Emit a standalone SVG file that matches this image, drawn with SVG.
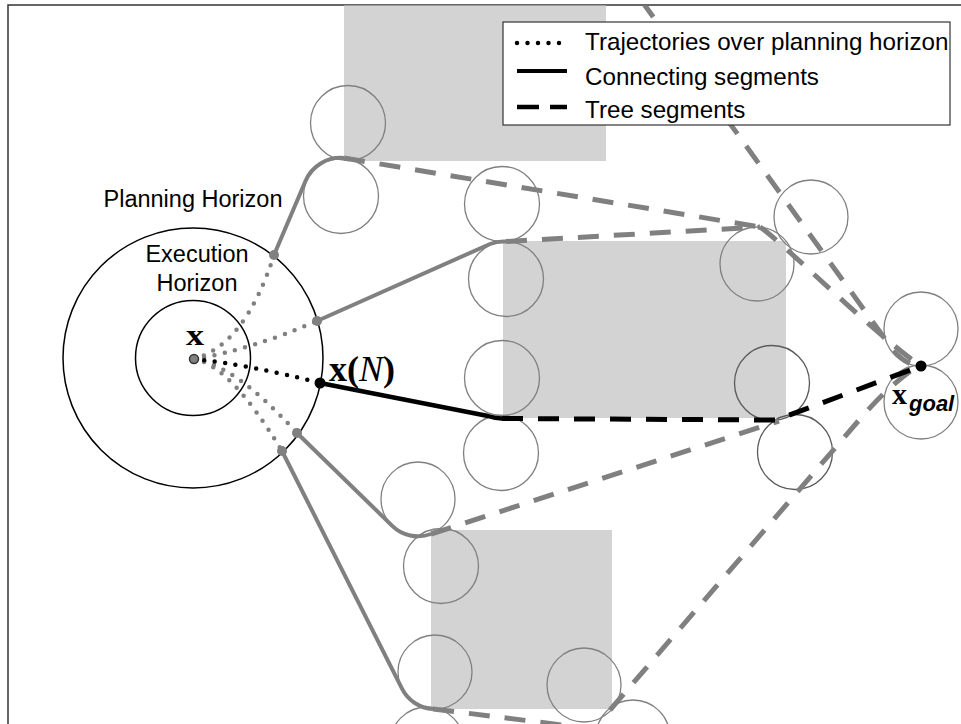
<svg xmlns="http://www.w3.org/2000/svg" width="961" height="724" viewBox="0 0 961 724">
<style>
.obs{fill:#d3d3d3;stroke:none}
.c{fill:none;stroke:#808080;stroke-width:1.3}
.cd{fill:none;stroke:#5a5a5a;stroke-width:1.3}
.conn{fill:none;stroke:#808080;stroke-width:4;stroke-linejoin:round}
.tree{fill:none;stroke:#808080;stroke-width:5;stroke-dasharray:21 15}
.treeb{fill:none;stroke:#000;stroke-width:5;stroke-dasharray:21 15}
.dotg{fill:none;stroke:#808080;stroke-width:4.5;stroke-dasharray:0 10.5;stroke-linecap:round}
.dotb{fill:none;stroke:#000;stroke-width:4.5;stroke-dasharray:0 10.5;stroke-linecap:round}
.lbl{font-family:"Liberation Sans",Arial,sans-serif;font-size:23.5px;fill:#000}
.leg{font-family:"Liberation Sans",Arial,sans-serif;font-size:24.2px;fill:#000}
.math{font-family:"Liberation Serif","Times New Roman",serif;font-weight:bold;fill:#000}
</style>
<defs>
<clipPath id="frame"><rect x="8" y="5.5" width="960" height="730"/></clipPath>
</defs>
<rect x="0" y="0" width="961" height="724" fill="#fff"/>
<rect x="8" y="5" width="970" height="740" fill="#fff" stroke="#333" stroke-width="1.5"/>
<g id="obstacles" clip-path="url(#frame)">
<rect class="obs" x="344" y="5" width="262" height="156"/>
<rect class="obs" x="503" y="241" width="283" height="177"/>
<rect class="obs" x="431" y="530" width="181" height="179"/>
</g>
<g id="horizons">
<circle cx="193" cy="358" r="130" fill="none" stroke="#000" stroke-width="1.5"/>
<circle cx="193" cy="358" r="57.5" fill="none" stroke="#000" stroke-width="1.5"/>
</g>
<g id="circles" clip-path="url(#frame)">
<circle class="c" cx="348" cy="123" r="37.5"/>
<circle class="c" cx="341" cy="196" r="37.5"/>
<circle class="c" cx="502" cy="204" r="37.5"/>
<circle class="c" cx="506" cy="279" r="37.5"/>
<circle class="c" cx="502" cy="378" r="37.5"/>
<circle class="c" cx="501" cy="453" r="37.5"/>
<circle class="c" cx="418" cy="499" r="37"/>
<circle class="c" cx="441" cy="566" r="37.5"/>
<circle class="c" cx="435" cy="672" r="37"/>
<circle class="c" cx="427" cy="744" r="37"/>
<circle class="c" cx="584" cy="685" r="37"/>
<circle class="c" cx="633" cy="737" r="37"/>
<circle class="c" cx="811" cy="217" r="37"/>
<circle class="c" cx="757" cy="264" r="37"/>
<circle class="cd" cx="772" cy="383" r="37.5"/>
<circle class="cd" cx="795" cy="452" r="37.5"/>
<circle class="c" cx="921" cy="329" r="37"/>
<circle class="c" cx="921" cy="402" r="37"/>
</g>
<g id="connectors" clip-path="url(#frame)">
<path class="dotg" d="M194,359 Q245,345 274,255"/>
<path class="dotg" d="M194,359 Q250,350 317,321"/>
<path class="dotg" d="M194,359 Q235,365 297,433"/>
<path class="dotg" d="M194,359 Q230,365 282,451"/>
<path class="dotb" d="M194,359 Q250,365 320,383"/>
<path class="conn" d="M274,255 L305.5,181 A38,38 0 0 1 344,158"/>
<path class="conn" d="M317,321 L490,244 A37.5,37.5 0 0 1 506,241.5"/>
<path class="conn" d="M297,433 L392,525.6 A37,37 0 0 0 431,534"/>
<path class="conn" d="M282,451 L402,688.7 A37,37 0 0 0 433,709"/>
<path fill="none" stroke="#000" stroke-width="4.5" stroke-linejoin="round" d="M320,383 L488,416 Q495,418.5 502,418.5"/>
<path class="tree" d="M344,158 L760,227"/>
<path class="tree" d="M506,241.5 L760,227"/>
<path class="tree" d="M431,534 L779,421"/>
<path class="tree" d="M433,709 Q540,722 600,730"/>
<path class="tree" d="M610,710 L860,419 Q890,384 918,366"/>
<path class="tree" d="M641,0 L893,350 Q905,364 918,366"/>
<path class="tree" d="M760,227 C780,240 870,330 918,364"/>
<path class="treeb" d="M502,418.5 L776,420 L921,366"/>
</g>
<g id="points">
<circle cx="194" cy="359" r="4.5" fill="#808080" stroke="#333" stroke-width="1.5"/>
<circle cx="274" cy="255" r="5" fill="#808080"/>
<circle cx="317" cy="321" r="5" fill="#808080"/>
<circle cx="297" cy="433" r="5" fill="#808080"/>
<circle cx="282" cy="451" r="5" fill="#808080"/>
<circle cx="320" cy="383" r="5.5" fill="#000"/>
<circle cx="921" cy="366" r="5.5" fill="#000"/>
</g>
<g id="legend">
<rect x="503" y="22" width="447" height="103" fill="#fff" stroke="#333" stroke-width="1.2"/>
<line x1="517" y1="43" x2="564" y2="43" class="dotb" stroke-width="4"/>
<line x1="517" y1="71" x2="567" y2="71" stroke="#000" stroke-width="4"/>
<line x1="517" y1="107" x2="567" y2="107" stroke="#000" stroke-width="4.5" stroke-dasharray="22 11"/>
<text class="leg" x="585" y="50">Trajectories over planning horizon</text>
<text class="leg" x="585" y="85">Connecting segments</text>
<text class="leg" x="585" y="118">Tree segments</text>
</g>
<g id="labels">
<text class="lbl" x="193" y="207" text-anchor="middle">Planning Horizon</text>
<text class="lbl" x="197" y="262" text-anchor="middle">Execution</text>
<text class="lbl" x="197" y="291" text-anchor="middle">Horizon</text>
<text class="math" font-size="30" transform="translate(195,345) scale(1.2,1)" text-anchor="middle">x</text>
<text class="math" x="329" y="381" font-size="36">x(<tspan font-weight="normal" font-style="italic">N</tspan>)</text>
<text class="math" x="892" y="403.5" font-size="30">x</text>
<text x="909" y="411" font-family="'Liberation Sans',Arial,sans-serif" font-weight="bold" font-style="italic" font-size="22">goal</text>
</g>
</svg>
